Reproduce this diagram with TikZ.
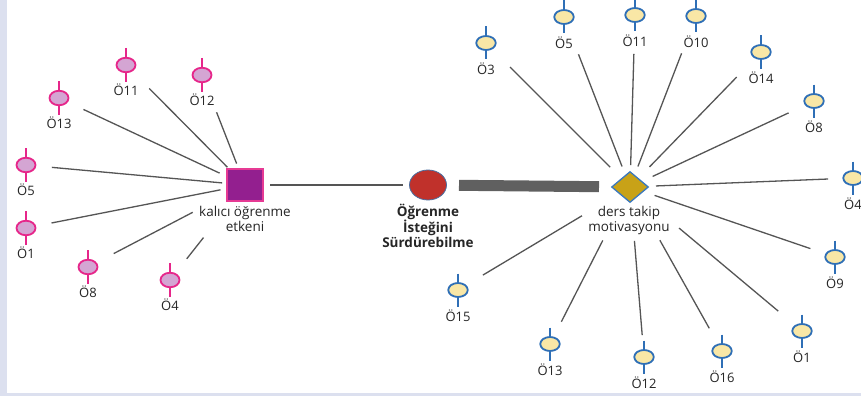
\documentclass[tikz,border=0pt]{standalone}
\usepackage{fontspec}
\setmainfont{Open Sans}
\usetikzlibrary{shapes.geometric}
\definecolor{pinkstroke}{HTML}{E6268A}
\definecolor{pinkfill}{HTML}{D4A5D3}
\definecolor{bluestroke}{HTML}{2F6FB6}
\definecolor{yelfill}{HTML}{F9E7A6}
\definecolor{sqfill}{HTML}{931F8F}
\definecolor{sqedge}{HTML}{E63A94}
\definecolor{redfill}{HTML}{C0312B}
\definecolor{rededge}{HTML}{4A6FA0}
\definecolor{goldfill}{HTML}{C8A217}
\definecolor{goldedge}{HTML}{3A78BE}
\definecolor{linkgray}{HTML}{555555}
\definecolor{bargray}{HTML}{606060}
\definecolor{sidestrip}{HTML}{DCE0EF}
\tikzset{
  pinkell/.style={ellipse, draw=pinkstroke, fill=pinkfill, line width=1.8pt, minimum width=19pt, minimum height=14.5pt, inner sep=0pt},
  blueell/.style={ellipse, draw=bluestroke, fill=yelfill, line width=1.8pt, minimum width=19.5pt, minimum height=14pt, inner sep=0pt},
  pinkstem/.style={draw=pinkstroke, line width=1.8pt},
  bluestem/.style={draw=bluestroke, line width=1.8pt},
  lbl/.style={font=\fontsize{13}{15}\selectfont, inner sep=0pt, text=black!85},
  hublbl/.style={font=\fontsize{13.5}{15}\selectfont, align=center, inner sep=0pt, text=black!85},
  link/.style={draw=linkgray, line width=1.3pt},
}
\newcommand\pleaf[4]{%
  \draw[pinkstem] (#2,#3-17) -- (#2,#3+17);
  \node[pinkell] (#1) at (#2,#3) {};
  \node[lbl] (#1l) at (#2,#3+25) {#4};
}
\newcommand\bleaf[4]{%
  \draw[bluestem] (#2,#3-16.5) -- (#2,#3+16.5);
  \node[blueell] (#1) at (#2,#3) {};
  \node[lbl] (#1l) at (#2,#3+25.5) {#4};
}
\begin{document}
\begin{tikzpicture}[x=1pt,y=-1pt]
\useasboundingbox (0,0) rectangle (861,396);
\fill[white] (0,0) rectangle (861,396);
\fill[sidestrip] (0,0) rectangle (7,396);
\fill[sidestrip] (0,393) rectangle (861,396);

% hubs
\node[rectangle, fill=sqfill, draw=sqedge, line width=1.3pt, minimum width=36pt, minimum height=32pt, inner sep=0pt] (sq) at (245,185) {};
\node[hublbl] (sql) at (245,218.5) {kalıcı öğrenme\\etkeni};
\node[ellipse, fill=redfill, draw=rededge, line width=0.8pt, minimum width=37pt, minimum height=30pt, inner sep=0pt] (circ) at (428,185) {};
\node[hublbl, font=\fontsize{13.5}{15}\selectfont\bfseries] (circl) at (428,226) {Öğrenme\\İsteğini\\Sürdürebilme};
\node[diamond, fill=goldfill, draw=goldedge, line width=1.3pt, minimum width=37pt, minimum height=31pt, inner sep=0pt] (dia) at (630,187) {};
\node[hublbl] (dial) at (629,220.5) {ders takip\\motivasyonu};

\draw[link, shorten <=25pt, shorten >=25pt] (sq.center) -- (circ.center);
\draw[draw=bargray, line width=11pt, shorten <=31pt, shorten >=31pt] (circ.center) -- (dia.center);

% left leaves
\pleaf{p11}{126}{65}{Ö11}
\pleaf{p12}{202}{75}{Ö12}
\pleaf{p13}{59}{98}{Ö13}
\pleaf{p5}{26}{165}{Ö5}
\pleaf{p1}{26}{228}{Ö1}
\pleaf{p8}{88}{267}{Ö8}
\pleaf{p4}{170}{280}{Ö4}

\draw[link, shorten <=27pt, shorten >=28pt] (p13.center) -- (sq.center);
\draw[link, shorten <=33pt, shorten >=25pt] (p11.center) -- (sq.center);
\draw[link, shorten <=40pt, shorten >=23pt] (p12.center) -- (sq.center);
\draw[link, shorten <=26pt, shorten >=23pt] (p5.center) -- (sq.center);
\draw[link, shorten <=26pt, shorten >=25pt] (p1.center) -- (sq.center);
\draw[link, shorten <=29pt, shorten >=59pt] (p8.center) -- (sq.center);
\draw[link, shorten <=27pt, shorten >=67pt] (p4.center) -- (sq.center);

% right leaves
\bleaf{b3}{486}{43}{Ö3}
\bleaf{b5}{564}{17}{Ö5}
\bleaf{b11}{635}{15}{Ö11}
\bleaf{b10}{696}{16}{Ö10}
\bleaf{b14}{761}{52}{Ö14}
\bleaf{b8}{814}{101}{Ö8}
\bleaf{b4}{853}{178}{Ö4}
\bleaf{b9}{835}{257}{Ö9}
\bleaf{b15}{458}{290}{Ö15}
\bleaf{b13}{550}{344}{Ö13}
\bleaf{b12}{644}{357}{Ö12}
\bleaf{b16}{722}{351}{Ö16}
\bleaf{b1}{802}{331}{Ö1}

\draw[link, shorten <=34pt, shorten >=28pt] (b3.center) -- (dia.center);
\draw[link, shorten <=40pt, shorten >=22pt] (b5.center) -- (dia.center);
\draw[link, shorten <=39pt, shorten >=22pt] (b11.center) -- (dia.center);
\draw[link, shorten <=40pt, shorten >=22pt] (b10.center) -- (dia.center);
\draw[link, shorten <=35pt, shorten >=28pt] (b14.center) -- (dia.center);
\draw[link, shorten <=28pt, shorten >=25pt] (b8.center) -- (dia.center);
\draw[link, shorten <=25pt, shorten >=26pt] (b4.center) -- (dia.center);
\draw[link, shorten <=26pt, shorten >=26pt] (b9.center) -- (dia.center);
\draw[link, shorten <=29pt, shorten >=56pt] (b15.center) -- (dia.center);
\draw[link, shorten <=25pt, shorten >=60pt] (b13.center) -- (dia.center);
\draw[link, shorten <=22pt, shorten >=54pt] (b12.center) -- (dia.center);
\draw[link, shorten <=26pt, shorten >=61pt] (b16.center) -- (dia.center);
\draw[link, shorten <=31pt, shorten >=64pt] (b1.center) -- (dia.center);
\end{tikzpicture}
\end{document}
